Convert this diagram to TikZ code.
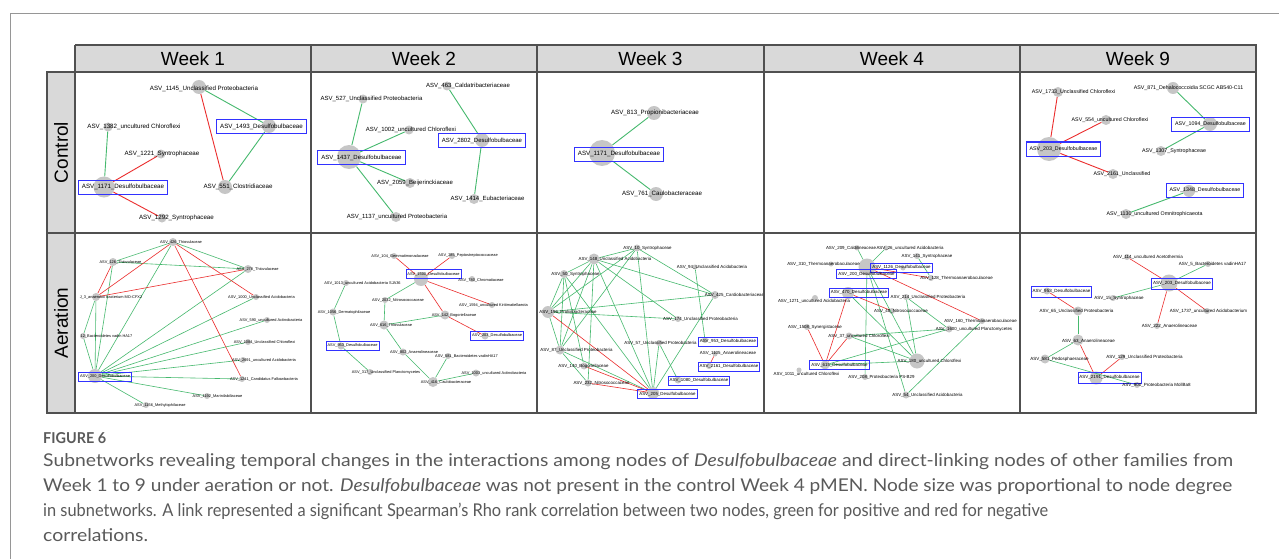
\documentclass[tikz,border=0pt]{standalone}
\usepackage{fontspec}
\setmainfont{Liberation Sans}
\newfontfamily\capfont{Lato}
\definecolor{hdr}{RGB}{217,217,217}
\definecolor{bord}{RGB}{80,80,80}
\definecolor{ndg}{RGB}{198,198,198}
\definecolor{eg}{RGB}{70,185,110}
\definecolor{er}{RGB}{235,45,45}
\definecolor{bx}{RGB}{50,50,255}
\definecolor{capc}{RGB}{90,90,90}
\definecolor{frm}{RGB}{150,150,150}
\tikzset{
 nd/.style={circle,fill=ndg,inner sep=0pt},
 lab/.style={inner sep=0pt,font=\fontsize{6.2}{7}\selectfont},
 labn/.style={inner sep=0pt,font=\fontsize{5.3}{6}\selectfont},
 slab/.style={inner sep=0pt,font=\fontsize{4.4}{5}\selectfont},
 slabs/.style={inner sep=0pt,font=\fontsize{3.9}{4.5}\selectfont},
 bbox/.style={draw=bx,line width=1pt,inner xsep=3.5pt,minimum height=14pt},
 sbox/.style={draw=bx,line width=0.8pt,inner xsep=1.5pt,minimum height=9pt},
 gedge/.style={draw=eg,line width=0.9pt},
 redge/.style={draw=er,line width=0.9pt},
 sgedge/.style={draw=eg,line width=0.6pt},
 sredge/.style={draw=er,line width=0.6pt},
 hd/.style={font=\fontsize{19}{22}\selectfont},
 tline/.style={draw=bord,line width=1.4pt},
 captxt/.style={anchor=base west,inner sep=0pt,text=capc,font=\capfont\fontsize{17.6}{20}\selectfont},
}
\begin{document}
\begin{tikzpicture}[x=1pt,y=-1pt]
\useasboundingbox (0,0) rectangle (1279,559);
\fill[white] (0,0) rectangle (1279,559);
\draw[frm,line width=0.8pt] (10,559) -- (10,13) -- (1279,13);
% header fills
\fill[hdr] (75,45) rectangle (1256,72);
\fill[hdr] (47,72) rectangle (75,413);
\node[hd] (h1) at (193,58.5) {Week 1};
\node[hd] (h2) at (424,58.5) {Week 2};
\node[hd] (h3) at (650.5,58.5) {Week 3};
\node[hd] (h4) at (892,58.5) {Week 4};
\node[hd] (h5) at (1138,58.5) {Week 9};
\node[hd,rotate=90] (r1) at (61,152.5) {Control};
\node[hd,rotate=90] (r2) at (61,323) {Aeration};

% ===== Control Week 1 =====
\node[nd,minimum size=14pt] (p1n1145) at (199,87) {};
\node[nd,minimum size=14pt] (p1n1493) at (269,126) {};
\node[nd,minimum size=9pt] (p1n1382) at (108,127) {};
\node[nd,minimum size=9pt] (p1n1221) at (161,154) {};
\node[nd,minimum size=21pt] (p1n1171) at (104,187) {};
\node[nd,minimum size=14pt] (p1n551) at (225,187) {};
\node[nd,minimum size=9pt] (p1n1292) at (162,218) {};
\draw[gedge] (p1n1145)--(p1n1493);
\draw[redge] (p1n1145)--(p1n551);
\draw[gedge] (p1n1493)--(p1n551);
\draw[gedge] (p1n1382)--(p1n1171);
\draw[redge] (p1n1221)--(p1n1171);
\draw[redge] (p1n1171)--(p1n1292);
\node[lab] (p1l1145) at (204,89) {ASV\_1145\_Unclassified Proteobacteria};
\node[lab,bbox] (p1l1493) at (261.5,126.5) {ASV\_1493\_Desulfobulbaceae};
\node[lab] (p1l1382) at (134,127) {ASV\_1382\_uncultured Chloroflexi};
\node[lab] (p1l1221) at (162,154) {ASV\_1221\_Syntrophaceae};
\node[lab,bbox] (p1l1171) at (123,187) {ASV\_1171\_Desulfobulbaceae};
\node[lab] (p1l551) at (238,187) {ASV\_551\_Clostridiaceae};
\node[lab] (p1l1292) at (176.5,218) {ASV\_1292\_Syntrophaceae};

% ===== Control Week 2 =====
\node[nd,minimum size=9pt] (p2n463) at (447,86) {};
\node[nd,minimum size=9pt] (p2n527) at (363,99) {};
\node[nd,minimum size=9pt] (p2n1002) at (409,130) {};
\node[nd,minimum size=14pt] (p2n2802) at (482,140) {};
\node[nd,minimum size=24pt] (p2n1437) at (349,157) {};
\node[nd,minimum size=10pt] (p2n2059) at (410,183) {};
\node[nd,minimum size=10pt] (p2n1414) at (474,199) {};
\node[nd,minimum size=10pt] (p2n1137) at (396,217) {};
\draw[gedge] (p2n463)--(p2n2802);
\draw[gedge] (p2n2802)--(p2n1414);
\draw[gedge] (p2n1437)--(p2n527);
\draw[gedge] (p2n1437)--(p2n1002);
\draw[gedge] (p2n1437)--(p2n2059);
\draw[gedge] (p2n1437)--(p2n1137);
\node[lab,font=\fontsize{6}{7}\selectfont] (p2l463) at (468,86) {ASV\_463\_Caldatribacteriaceae};
\node[lab,font=\fontsize{6}{7}\selectfont] (p2l527) at (371.5,99) {ASV\_527\_Unclassified Proteobacteria};
\node[lab,font=\fontsize{6}{7}\selectfont] (p2l1002) at (411,130) {ASV\_1002\_uncultured Chloroflexi};
\node[lab,font=\fontsize{6}{7}\selectfont,bbox] (p2l2802) at (482,140.5) {ASV\_2802\_Desulfobulbaceae};
\node[lab,font=\fontsize{6}{7}\selectfont,bbox] (p2l1437) at (361.5,157.5) {ASV\_1437\_Desulfobulbaceae};
\node[lab,font=\fontsize{6}{7}\selectfont] (p2l2059) at (415,183) {ASV\_2059\_Beijerinckiaceae};
\node[lab,font=\fontsize{6}{7}\selectfont] (p2l1414) at (487.5,199) {ASV\_1414\_Eubacteriaceae};
\node[lab,font=\fontsize{6}{7}\selectfont] (p2l1137) at (397,217) {ASV\_1137\_uncultured Proteobacteria};

% ===== Control Week 3 =====
\node[nd,minimum size=14pt] (p3n813) at (654,113) {};
\node[nd,minimum size=26pt] (p3n1171) at (602,153) {};
\node[nd,minimum size=14pt] (p3n761) at (656,194) {};
\draw[gedge] (p3n1171)--(p3n813);
\draw[gedge] (p3n1171)--(p3n761);
\node[lab] (p3l813) at (655,113) {ASV\_813\_Propionibacteriaceae};
\node[lab,bbox] (p3l1171) at (619,154) {ASV\_1171\_Desulfobulbaceae};
\node[lab] (p3l761) at (662,194) {ASV\_761\_Caulobacteraceae};

% ===== Control Week 9 =====
\node[nd,minimum size=10pt] (p5n1733) at (1058,92) {};
\node[nd,minimum size=12pt] (p5n871) at (1173,88) {};
\node[nd,minimum size=10pt] (p5n554) at (1106,120) {};
\node[nd,minimum size=14pt] (p5n1094) at (1210,124) {};
\node[nd,minimum size=24pt] (p5n203) at (1049,149) {};
\node[nd,minimum size=10pt] (p5n1307) at (1161,151) {};
\node[nd,minimum size=10pt] (p5n2161) at (1113,174) {};
\node[nd,minimum size=12pt] (p5n1348) at (1189,191) {};
\node[nd,minimum size=10pt] (p5n1130) at (1126,214) {};
\draw[redge] (p5n1733)--(p5n203);
\draw[redge] (p5n554)--(p5n203);
\draw[redge] (p5n203)--(p5n2161);
\draw[gedge] (p5n871)--(p5n1094);
\draw[gedge] (p5n1094)--(p5n1307);
\draw[gedge] (p5n1348)--(p5n1130);
\node[labn] (p5l1733) at (1073.5,92) {ASV\_1733\_Unclassified Chloroflexi};
\node[labn] (p5l871) at (1188.5,88) {ASV\_871\_Dehalococcoidia SCGC AB540-C11};
\node[labn] (p5l554) at (1110,120) {ASV\_554\_uncultured Chloroflexi};
\node[labn,bbox] (p5l1094) at (1210.5,124.5) {ASV\_1094\_Desulfobulbaceae};
\node[labn,bbox] (p5l203) at (1063.5,149) {ASV\_203\_Desulfobulbaceae};
\node[labn] (p5l1307) at (1174,151) {ASV\_1307\_Syntrophaceae};
\node[labn] (p5l2161) at (1122,174) {ASV\_2161\_Unclassified};
\node[labn,bbox] (p5l1348) at (1205,190.5) {ASV\_1348\_Desulfobulbaceae};
\node[labn] (p5l1130) at (1154.5,214) {ASV\_1130\_uncultured Omnitrophicaeota};

% ===== Aeration Week 1 =====
\node[nd,minimum size=8pt] (p6n426) at (173,242) {};
\node[nd,minimum size=8pt] (p6n126) at (113,262) {};
\node[nd,minimum size=8pt] (p6n278) at (248,269) {};
\node[nd,minimum size=8pt] (p6nj3) at (96,297) {};
\node[nd,minimum size=6pt] (p6n1000) at (256,297) {};
\node[nd,minimum size=6pt] (p6n12) at (83,336) {};
\node[nd,minimum size=6pt] (p6n590) at (267,320) {};
\node[nd,minimum size=6pt] (p6n1084) at (248,342) {};
\node[nd,minimum size=6pt] (p6n2691) at (243,360) {};
\node[nd,minimum size=14pt] (p6n200) at (95,376) {};
\node[nd,minimum size=6pt] (p6n1241) at (242,379) {};
\node[nd,minimum size=6pt] (p6n1192) at (207,396) {};
\node[nd,minimum size=6pt] (p6n1156) at (146,405) {};
\foreach \a/\b in {426/126,426/278,126/278,426/200,126/200,j3/12,j3/200,12/200,278/200,1000/200,590/200,1084/200,2691/200,1241/200,1192/200,1156/200}
  \draw[sgedge] (p6n\a)--(p6n\b);
\foreach \a/\b in {426/j3,126/j3,426/1241,426/1000,j3/278}
  \draw[sredge] (p6n\a)--(p6n\b);
\node[slabs] (p6l426) at (181,242) {ASV\_426\_Thiovulaceae};
\node[slabs] (p6l126) at (120.5,262) {ASV\_126\_Thiovulaceae};
\node[slabs] (p6l278) at (257.5,269) {ASV\_278\_Thiovulaceae};
\node[slabs] (p6lj3) at (111,297) {J\_3\_anaerobic bacterium MO-CFX2};
\node[slabs] (p6l1000) at (261.5,297) {ASV\_1000\_Unclassified Acidobacteria};
\node[slabs] (p6l12) at (106.5,336) {12\_Bacteroidetes vadin HA17};
\node[slabs] (p6l590) at (271,320) {ASV\_590\_uncultured Actinobacteria};
\node[slabs] (p6l1084) at (264.5,342) {ASV\_1084\_Unclassified Chloroflexi};
\node[slabs] (p6l2691) at (264,360) {ASV\_2691\_uncultured Acidobacteria};
\node[slabs,sbox] (p6l200) at (105,376.5) {ASV\_200\_Desulfobulbaceae};
\node[slabs] (p6l1241) at (264,379) {ASV\_1241\_Candidatus Falkowbacteria};
\node[slabs] (p6l1192) at (217.5,396) {ASV\_1192\_Marinilabiliaceae};
\node[slabs] (p6l1156) at (160,405) {ASV\_1156\_Methylophilaceae};

% ===== Aeration Week 2 =====
\node[nd,minimum size=6pt] (p7n104) at (394,256) {};
\node[nd,minimum size=6pt] (p7n285) at (452,256) {};
\node[nd,minimum size=14pt] (p7n1500) at (421,279) {};
\node[nd,minimum size=6pt] (p7n780) at (472,279) {};
\node[nd,minimum size=6pt] (p7n1013) at (346,283) {};
\node[nd,minimum size=6pt] (p7n2032) at (385,300) {};
\node[nd,minimum size=6pt] (p7n1594) at (492,305) {};
\node[nd,minimum size=7pt] (p7n1056) at (333,312) {};
\node[nd,minimum size=9pt] (p7n142) at (445,315) {};
\node[nd,minimum size=9pt] (p7n616) at (384,325) {};
\node[nd,minimum size=7pt] (p7n203) at (485,336) {};
\node[nd,minimum size=7pt] (p7n953) at (341,346) {};
\node[nd,minimum size=7pt] (p7n802) at (403,352) {};
\node[nd,minimum size=6pt] (p7n581) at (448,356) {};
\node[nd,minimum size=6pt] (p7n317) at (370,372) {};
\node[nd,minimum size=7pt] (p7n1003) at (476,373) {};
\node[nd,minimum size=10pt] (p7n416) at (433,382) {};
\foreach \a/\b in {104/1500,285/1500,1500/1594,1500/142,142/203}
  \draw[sredge] (p7n\a)--(p7n\b);
\foreach \a/\b in {1500/2032,2032/616,616/142,1013/1056,1056/953,953/317,616/802,802/416,581/416,1003/416}
  \draw[sgedge] (p7n\a)--(p7n\b);
\node[slabs] (p7l104) at (400,256) {ASV\_104\_Gemmatimonadaceae};
\node[slabs] (p7l285) at (468,256) {ASV\_285\_Peptostreptococcaceae};
\node[slabs,sbox] (p7l1500) at (433.5,274) {ASV\_1500\_Desulfobulbaceae};
\node[slabs] (p7l780) at (481,280) {ASV\_780\_Chromatiaceae};
\node[slabs] (p7l1013) at (362.5,283) {ASV\_1013\_uncultured Acidobacteria SJA36};
\node[slabs] (p7l2032) at (398,300) {ASV\_2032\_Nitrosococcaceae};
\node[slabs] (p7l1594) at (493.5,305) {ASV\_1594\_uncultured Kiritimatiellaeota};
\node[slabs] (p7l1056) at (344,312) {ASV\_1056\_Dermatophilaceae};
\node[slabs] (p7l142) at (454,315) {ASV\_142\_Bogoriellaceae};
\node[slabs] (p7l616) at (391,325) {ASV\_616\_Thiovulaceae};
\node[slabs,sbox] (p7l203) at (497,335.5) {ASV\_203\_Desulfobulbaceae};
\node[slabs,sbox] (p7l953) at (352.5,345.5) {ASV\_953\_Desulfobulbaceae};
\node[slabs] (p7l802) at (414,352) {ASV\_802\_Anaerolineaceae};
\node[slabs] (p7l581) at (466.5,356) {ASV\_581\_Bacteroidetes vadinHA17};
\node[slabs] (p7l317) at (386,372) {ASV\_317\_Unclassified Planctomycetes};
\node[slabs] (p7l1003) at (494,373) {ASV\_1003\_uncultured Actinobacteria};
\node[slabs] (p7l416) at (446,382) {ASV\_416\_Caulobacteraceae};

% ===== Aeration Week 3 =====
\node[nd,minimum size=7pt] (p8n10) at (637,248) {};
\node[nd,minimum size=11pt] (p8n148) at (594,259) {};
\node[nd,minimum size=5pt] (p8n94) at (695,267) {};
\node[nd,minimum size=8pt] (p8n50) at (564,274) {};
\node[nd,minimum size=8pt] (p8n425) at (715,295) {};
\node[nd,minimum size=12pt] (p8n196) at (548,312) {};
\node[nd,minimum size=6pt] (p8n174) at (678,319) {};
\node[nd,minimum size=6pt] (p8n953) at (705,340) {};
\node[nd,minimum size=6pt] (p8n57) at (659,343) {};
\node[nd,minimum size=9pt] (p8n87) at (560,350) {};
\node[nd,minimum size=5pt] (p8n1105) at (715,354) {};
\node[nd,minimum size=6pt] (p8n2161) at (709,366) {};
\node[nd,minimum size=7pt] (p8n140) at (584,366) {};
\node[nd,minimum size=7pt] (p8n1080) at (678,380) {};
\node[nd,minimum size=7pt] (p8n232) at (588,383) {};
\node[nd,minimum size=12pt] (p8n205) at (653,393) {};
\foreach \a/\b in {10/148,10/196,10/425,10/205,10/87,148/50,148/196,148/87,148/425,148/174,148/205,148/232,50/196,50/87,50/140,50/205,196/425,196/174,196/87,87/232,87/205,425/205,94/953,57/1080,57/205}
  \draw[sgedge] (p8n\a)--(p8n\b);
\foreach \a/\b in {196/205,140/205,232/205,1105/2161}
  \draw[sredge] (p8n\a)--(p8n\b);
\node[slab] (p8l10) at (647.5,248) {ASV\_10\_Syntrophaceae};
\node[slab] (p8l148) at (615,259) {ASV\_148\_Unclassified Acidobacteria};
\node[slab] (p8l94) at (712,267) {ASV\_94\_Unclassified Acidobacteria};
\node[slab] (p8l50) at (575.5,274) {ASV\_50\_Syntrophaceae};
\node[slab] (p8l425) at (734.5,295) {ASV\_425\_Cardiobacteriaceae};
\node[slab] (p8l196) at (568,312) {ASV\_196\_Prolixibacteraceae};
\node[slab] (p8l174) at (700.5,319) {ASV\_174\_Unclassified Proteobacteria};
\node[slab,sbox] (p8l953) at (728,341.5) {ASV\_953\_Desulfobulbaceae};
\node[slab] (p8l57) at (660.5,343) {ASV\_57\_Unclassified Proteobacteria};
\node[slab] (p8l87) at (576.5,350) {ASV\_87\_Unclassified Proteobacteria};
\node[slab] (p8l1105) at (728,353.5) {ASV\_1105\_Anaerolineaceae};
\node[slab,sbox] (p8l2161) at (729,366.5) {ASV\_2161\_Desulfobulbaceae};
\node[slab] (p8l140) at (583.5,366) {ASV\_140\_Bogoriellaceae};
\node[slab,sbox] (p8l1080) at (699,380.5) {ASV\_1080\_Desulfobulbaceae};
\node[slab] (p8l232) at (601.5,383) {ASV\_232\_Nitrosococcaceae};
\node[slab,sbox] (p8l205) at (667.5,394) {ASV\_205\_Desulfobulbaceae};

% ===== Aeration Week 4 =====
\node[nd,minimum size=5pt] (p9n209) at (857,248) {};
\node[nd,minimum size=5pt] (p9n26) at (886,248) {};
\node[nd,minimum size=6pt] (p9n141) at (917,256) {};
\node[nd,minimum size=5pt] (p9n310) at (831,264) {};
\node[nd,minimum size=5pt] (p9n1126) at (903,268) {};
\node[nd,minimum size=17pt] (p9n200) at (867,267) {};
\node[nd,minimum size=6pt] (p9n128) at (931,278) {};
\node[nd,minimum size=12pt] (p9n470) at (848,293) {};
\node[nd,minimum size=6pt] (p9n1271) at (815,298) {};
\node[nd,minimum size=6pt] (p9n214) at (906,297) {};
\node[nd,minimum size=6pt] (p9n48) at (892,311) {};
\node[nd,minimum size=6pt] (p9n160) at (982,321) {};
\node[nd,minimum size=7pt] (p9n1600) at (949,329) {};
\node[nd,minimum size=6pt] (p9n1508) at (807,327) {};
\node[nd,minimum size=7pt] (p9n37) at (849,336) {};
\node[nd,minimum size=15pt] (p9n180) at (917,361) {};
\node[nd,minimum size=9pt] (p9n615) at (825,365) {};
\node[nd,minimum size=5pt] (p9n1011) at (799,370) {};
\node[nd,minimum size=6pt] (p9n208) at (865,377) {};
\node[nd,minimum size=7pt] (p9n54) at (906,395) {};
\foreach \a/\b in {209/200,26/200,141/128,200/180,200/54,200/208,470/180,214/180,214/1600,615/1600,615/180,37/180,37/1600,160/54}
  \draw[sgedge] (p9n\a)--(p9n\b);
\foreach \a/\b in {470/48,470/615,37/615,1508/615,200/128,200/160}
  \draw[sredge] (p9n\a)--(p9n\b);
\node[slab] (p9l209) at (851,248) {ASV\_209\_Caldilineaceae};
\node[slab] (p9l26) at (910,248) {ASV\_26\_uncultured Acidobacteria};
\node[slab] (p9l141) at (927,256) {ASV\_141\_Syntrophaceae};
\node[slab] (p9l310) at (823.5,264) {ASV\_310\_Thermoanaerobaculaceae};
\node[slab,sbox] (p9l1126) at (901.5,267.5) {ASV\_1126\_Desulfobulbaceae};
\node[slab,sbox] (p9l200) at (866.5,274) {ASV\_200\_Desulfobulbaceae};
\node[slab] (p9l128) at (956.5,278) {ASV\_128\_Thermoanaerobaculaceae};
\node[slab,sbox] (p9l470) at (859,292.5) {ASV\_470\_Desulfobulbaceae};
\node[slab] (p9l1271) at (814,301) {ASV\_1271\_uncultured Acidobacteria};
\node[slab] (p9l214) at (928,297) {ASV\_214\_Unclassified Proteobacteria};
\node[slab] (p9l48) at (901,311) {ASV\_48\_Nitrosococcaceae};
\node[slab] (p9l160) at (980.5,321) {ASV\_160\_Thermoanaerobaculaceae};
\node[slab] (p9l1600) at (974,329) {ASV\_1600\_uncultured Planctomycetes};
\node[slab] (p9l1508) at (815,327) {ASV\_1508\_Synergistaceae};
\node[slab] (p9l37) at (859,336) {ASV\_37\_uncultured Chloroflexi};
\node[slab] (p9l180) at (929.5,361) {ASV\_180\_uncultured Chloroflexi};
\node[slab,sbox] (p9l615) at (839.5,365) {ASV\_615\_Desulfobulbaceae};
\node[slab] (p9l1011) at (806.5,374) {ASV\_1011\_uncultured Chloroflexi};
\node[slab] (p9l208) at (881.5,377) {ASV\_208\_Proteobacteria PS-B29};
\node[slab] (p9l54) at (927.5,395) {ASV\_54\_Unclassified Acidobacteria};

% ===== Aeration Week 9 =====
\node[nd,minimum size=6pt] (q9n114) at (1127,257) {};
\node[nd,minimum size=6pt] (q9n5) at (1208,264) {};
\node[nd,minimum size=17pt] (q9n203) at (1169,283) {};
\node[nd,minimum size=7pt] (q9n953) at (1047,291) {};
\node[nd,minimum size=6pt] (q9n15) at (1113,298) {};
\node[nd,minimum size=6pt] (q9n1737) at (1207,311) {};
\node[nd,minimum size=9pt] (q9n65) at (1078,311) {};
\node[nd,minimum size=6pt] (q9n222) at (1157,326) {};
\node[nd,minimum size=11pt] (q9n63) at (1078,340) {};
\node[nd,minimum size=6pt] (q9n129) at (1122,357) {};
\node[nd,minimum size=9pt] (q9n581) at (1045,359) {};
\node[nd,minimum size=13pt] (q9n2191) at (1096,378) {};
\node[nd,minimum size=6pt] (q9n900) at (1137,385) {};
\foreach \a/\b in {114/203,203/1737,203/222,953/65,63/2191,129/2191}
  \draw[sredge] (q9n\a)--(q9n\b);
\foreach \a/\b in {5/203,203/15,65/63,63/581,581/900}
  \draw[sgedge] (q9n\a)--(q9n\b);
\node[slab,font=\fontsize{4.5}{5}\selectfont] (q9l114) at (1148,257) {ASV\_114\_uncultured Acetothermia};
\node[slab,font=\fontsize{4.5}{5}\selectfont] (q9l5) at (1212.5,264) {ASV\_5\_Bacteroidetes vadinHA17};
\node[slab,font=\fontsize{4.5}{5}\selectfont,sbox,minimum height=11pt] (q9l203) at (1182,283.5) {ASV\_203\_Desulfobulbaceae};
\node[slab,font=\fontsize{4.5}{5}\selectfont,sbox,minimum height=11pt] (q9l953) at (1061.5,291.5) {ASV\_953\_Desulfobulbaceae};
\node[slab,font=\fontsize{4.5}{5}\selectfont] (q9l15) at (1119,298) {ASV\_15\_Syntrophaceae};
\node[slab,font=\fontsize{4.5}{5}\selectfont] (q9l1737) at (1208.5,311) {ASV\_1737\_uncultured Acidobacterium};
\node[slab,font=\fontsize{4.5}{5}\selectfont] (q9l65) at (1076.5,311) {ASV\_65\_Unclassified Proteobacteria};
\node[slab,font=\fontsize{4.5}{5}\selectfont] (q9l222) at (1169.5,326) {ASV\_222\_Anaerolineaceae};
\node[slab,font=\fontsize{4.5}{5}\selectfont] (q9l63) at (1088.5,341) {ASV\_63\_Anaerolineaceae};
\node[slab,font=\fontsize{4.5}{5}\selectfont] (q9l129) at (1144.5,357) {ASV\_129\_Unclassified Proteobacteria};
\node[slab,font=\fontsize{4.5}{5}\selectfont] (q9l581) at (1059.5,359) {ASV\_581\_Pedosphaeraceae};
\node[slab,font=\fontsize{4.5}{5}\selectfont,sbox,minimum height=11pt] (q9l2191) at (1109.5,377.5) {ASV\_2191\_Desulfobulbaceae};
\node[slab,font=\fontsize{4.5}{5}\selectfont] (q9l900) at (1156.5,385) {ASV\_900\_Proteobacteria MollBa8};

% ===== table lines =====
\draw[tline] (75,45) -- (1256,45) -- (1256,413) -- (47,413) -- (47,72) -- (1256,72);
\draw[tline] (75,45) -- (75,413);
\draw[tline] (47,233) -- (1256,233);
\foreach \x in {311,537,764,1020} \draw[tline] (\x,45) -- (\x,413);

% ===== caption =====
\node[anchor=base west,inner sep=0pt,text=capc,font=\capfont\bfseries\fontsize{15}{17}\selectfont] (figt) at (43,443) {\resizebox{63pt}{\height}{FIGURE 6}};
\node[captxt] (c1) at (43,466.5) {\resizebox{1190pt}{\height}{Subnetworks revealing temporal changes in the interactions among nodes of \textit{Desulfobulbaceae} and direct-linking nodes of other families from}};
\node[captxt] (c2) at (43,491.5) {\resizebox{1189pt}{\height}{Week 1 to 9 under aeration or not. \textit{Desulfobulbaceae} was not present in the control Week 4 pMEN. Node size was proportional to node degree}};
\node[captxt] (c3) at (43,516.5) {\resizebox{1005pt}{\height}{in subnetworks. A link represented a significant Spearman’s Rho rank correlation between two nodes, green for positive and red for negative}};
\node[captxt] (c4) at (43,541) {\resizebox{105pt}{\height}{correlations.}};
\end{tikzpicture}
\end{document}
